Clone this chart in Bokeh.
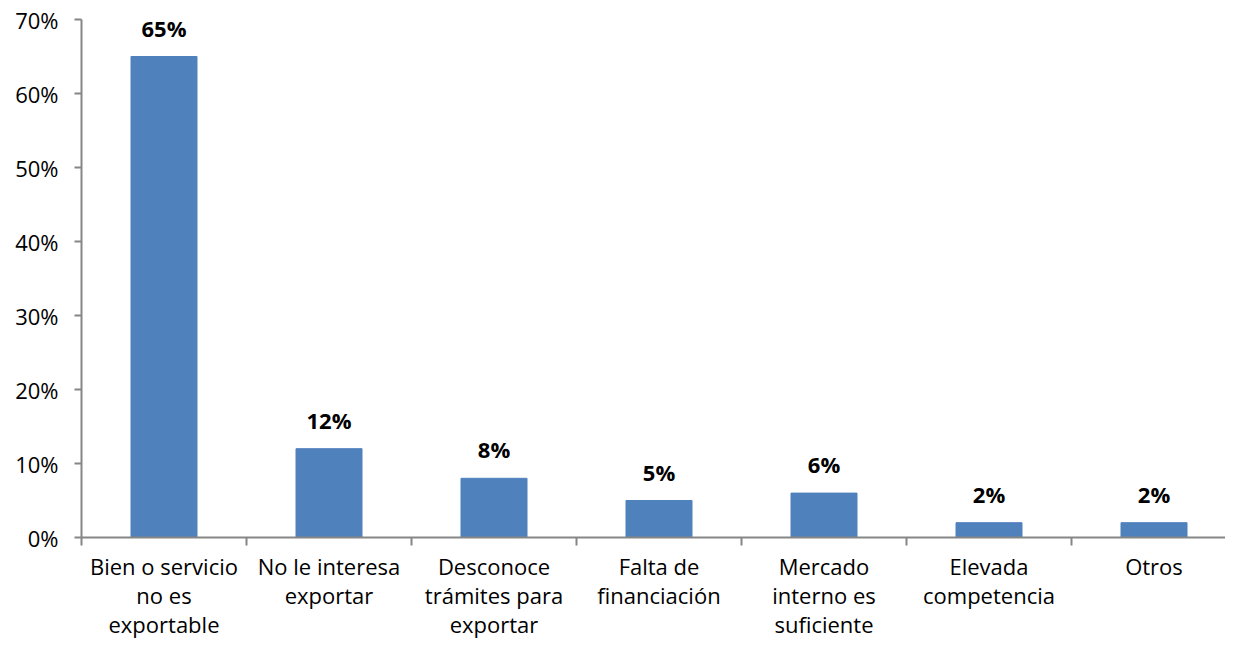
from bokeh.plotting import figure
from bokeh.models import FixedTicker, NumeralTickFormatter, ColumnDataSource, Range1d
from bokeh.core.properties import value
from bokeh.embed import file_html
from bokeh.resources import INLINE

categories = ["Bien o servicio\nno es\nexportable", "No le interesa\nexportar",
              "Desconoce\ntrámites para\nexportar", "Falta de\nfinanciación",
              "Mercado\ninterno es\nsuficiente", "Elevada\ncompetencia", "Otros"]
values = [0.65, 0.12, 0.08, 0.05, 0.06, 0.02, 0.02]
labels = ["65%", "12%", "8%", "5%", "6%", "2%", "2%"]
y_ticks = [0, 0.1, 0.2, 0.3, 0.4, 0.5, 0.6, 0.7]

FONT = "Open Sans"
AX = "#868686"
FS = "22px"

n = len(categories)
xs = [i + 0.5 for i in range(n)]
src = ColumnDataSource(dict(x=xs, top=values, lab=labels))

W, H = 1225, 641
LEFT, TOP, BOTTOM = 81, 19, 104
frame_w = W - LEFT
p = figure(width=W, height=H, output_backend="svg", toolbar_location=None,
           x_range=Range1d(0, frame_w / 165.0), y_range=Range1d(0, 0.7),
           min_border_left=LEFT, min_border_top=TOP, min_border_bottom=BOTTOM, min_border_right=0)
p.outline_line_color = None
p.grid.visible = False

p.vbar(x="x", top="top", width=0.4, source=src, color="#4F81BD")
p.text(x="x", y="top", text="lab", source=src, text_align="center", text_baseline="bottom",
       y_offset=-14, text_font=value(FONT), text_font_style="bold", text_font_size=FS,
       text_color="black")

p.yaxis.ticker = FixedTicker(ticks=y_ticks)
p.yaxis.formatter = NumeralTickFormatter(format="0%")
p.yaxis.axis_line_color = AX
p.yaxis.major_tick_line_color = AX
p.yaxis.major_tick_out = 7
p.yaxis.major_tick_in = 0
p.yaxis.minor_tick_line_color = None
p.yaxis.major_label_standoff = 16
p.yaxis.major_label_text_font = FONT
p.yaxis.major_label_text_font_size = FS
p.yaxis.major_label_text_color = "black"
p.yaxis.axis_line_width = 2
p.yaxis.major_tick_line_width = 2

p.xaxis.ticker = FixedTicker(ticks=xs, minor_ticks=list(range(n + 1)))
p.xaxis.major_label_overrides = {x: c for x, c in zip(xs, categories)}
p.xaxis.axis_line_color = AX
p.xaxis.axis_line_width = 2
p.xaxis.major_tick_out = 0
p.xaxis.major_tick_in = 0
p.xaxis.minor_tick_out = 8
p.xaxis.minor_tick_in = 0
p.xaxis.minor_tick_line_color = AX
p.xaxis.minor_tick_line_width = 2
p.xaxis.major_label_standoff = 5
p.xaxis.major_label_text_font = FONT
p.xaxis.major_label_text_font_size = FS
p.xaxis.major_label_text_color = "black"
p.xaxis.major_label_text_line_height = 0.97

open("out.html", "w").write(file_html(p, INLINE))
